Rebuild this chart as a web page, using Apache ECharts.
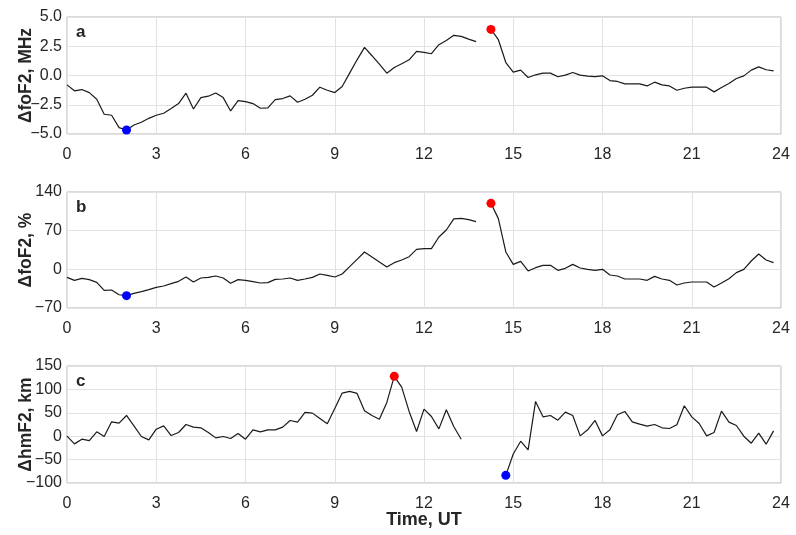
<!DOCTYPE html>
<html><head><meta charset="utf-8">
<script src="https://cdn.jsdelivr.net/npm/echarts@6/dist/echarts.min.js"></script>
<style>html,body{margin:0;padding:0;background:#fff}#c{width:796px;height:535px}</style>
</head><body><div id="c"></div>
<script>
// Time in hours UT (15-min steps)
const times = [];
for (let i = 0; i < 96; i++) times.push(i * 0.25);

const dFoF2MHz = [
 -0.8, -1.31, -1.2, -1.46,
 -2.03, -3.31, -3.4, -4.46,
 -4.66, -4.23, -4.0, -3.66,
 -3.4, -3.23, -2.83, -2.4,
 -1.51, -2.86, -1.89, -1.77,
 -1.49, -1.89, -3.03, -2.14,
 -2.23, -2.4, -2.8, -2.77,
 -2.06, -1.97, -1.74, -2.29,
 -2.03, -1.69, -1.0, -1.26,
 -1.46, -0.94, 0.2, 1.34,
 2.4, 1.69, 0.97, 0.2,
 0.69, 1.0, 1.34, 2.06,
 1.97, 1.86, 2.63, 3.0,
 3.43, 3.34, 3.11, 2.89,
 null, 3.94, 3.06, 1.11,
 0.29, 0.46, -0.17, 0.06,
 0.2, 0.2, -0.11, 0.03,
 0.26, 0.03, -0.06, -0.09,
 -0.03, -0.43, -0.51, -0.71,
 -0.71, -0.71, -0.89, -0.57,
 -0.8, -0.89, -1.26, -1.09,
 -1.0, -1.0, -1.0, -1.4,
 -1.03, -0.69, -0.26, -0.03,
 0.46, 0.74, 0.49, 0.4
];
const dFoF2Pct = [
 -14.5, -19.9, -16.3, -18.7,
 -23.5, -38, -37.4, -46,
 -47.7, -43.4, -40.4, -36.8,
 -32.6, -30.2, -26, -21.7,
 -13.9, -22.9, -15.7, -14.5,
 -12.1, -15.7, -25.3, -18.7,
 -19.9, -22.3, -24.7, -24.1,
 -18.1, -17.5, -15.7, -19.9,
 -17.5, -14.5, -8.4, -10.9,
 -13.9, -8.4, 4.8, 18.1,
 31.4, 22.3, 13.3, 4.2,
 12.1, 16.9, 22.9, 36.2,
 37.4, 37.4, 58.6, 71.2,
 91.2, 92.4, 90, 86.4,
 null, 119.5, 91.8, 31.4,
 9, 14.5, -3, 3,
 7.2, 7.2, -1.8, 1.8,
 9, 2.4, 0, -1.8,
 0, -10.3, -12.1, -17.5,
 -17.5, -17.5, -19.9, -12.7,
 -17.5, -19.9, -28.4, -24.7,
 -22.9, -22.9, -22.9, -32,
 -24.7, -16.9, -6, 0,
 15.1, 27.8, 16.9, 12.1
];
const dHmF2 = [
 0, -16.4, -6.4, -9.3,
 9.3, -0.7, 30.7, 27.9,
 44.3, 22.1, -0.7, -7.9,
 15, 22.1, 1.4, 7.9,
 25, 19.3, 17.9, 7.9,
 -3.6, -0.7, -5, 5.7,
 -6.4, 13.6, 9.3, 13.6,
 13.6, 19.3, 33.6, 30,
 50.7, 49.3, 37.9, 26.4,
 59.3, 92.1, 95.7, 91.4,
 54.3, 44.3, 36.4, 72.1,
 127.9, 105, 52.9, 10,
 57.9, 42.1, 15.7, 56.4,
 20.7, -6.4, null, null,
 null, null, null, -83.6,
 -37.9, -10.7, -29.3, 74.3,
 41.4, 44.3, 34.3, 51.4,
 44.3, 0.7, 13.6, 33.6,
 0.7, 13.6, 45.7, 52.9,
 30.7, 25.7, 21.4, 25,
 17.9, 16.4, 24.3, 65,
 41.4, 27.1, 0.7, 7.9,
 53.6, 30, 22.9, 0,
 -15, 6.4, -17.1, 11.4
];
const panelLetters = ['a', 'b', 'c'];
const yNames = ['\u0394foF2, MHz', '\u0394foF2, %', '\u0394hmF2, km'];
const yMin = [-5, -70, -100], yMax = [5, 140, 150], yStep = [2.5, 70, 50];
const xTicksStep = 3;
const xTitle = 'Time, UT';

const series = [dFoF2MHz, dFoF2Pct, dHmF2];
const FONT = 'Liberation Sans';
const fmtNum = (v, d) => { const s = Math.abs(v).toFixed(d); return v < 0 ? '\u2212' + s : s; };

const grids = [
  {left: 67, right: 15, top: 17, height: 117},
  {left: 67, right: 15, top: 192, height: 116},
  {left: 67, right: 15, top: 366, height: 117}
].map(g => Object.assign(g, {show: true, borderColor: '#b4b4b4', borderWidth: 1,
  containLabel: false, outerBoundsMode: 'none'}));

const xAxes = [0, 1, 2].map(i => ({
  type: 'value', gridIndex: i, min: 0, max: 24, interval: xTicksStep,
  axisLine: {show: false}, axisTick: {show: false},
  axisLabel: {color: '#262626', fontSize: 16, fontFamily: FONT, margin: 13},
  splitLine: {show: true, lineStyle: {color: '#e2e2e2', width: 1}}
}));
const yAxes = [0, 1, 2].map(i => ({
  type: 'value', gridIndex: i, min: yMin[i], max: yMax[i], interval: yStep[i],
  name: yNames[i], nameLocation: 'middle', nameGap: 32, nameRotate: 90,
  nameMoveOverlap: false,
  nameTextStyle: {fontSize: 17.5, fontWeight: 'bold', color: '#262626', fontFamily: FONT},
  axisLine: {show: false}, axisTick: {show: false},
  axisLabel: {color: '#262626', fontSize: 16, fontFamily: FONT, margin: 5,
    formatter: v => fmtNum(v, i === 0 ? 1 : 0)},
  splitLine: {show: true, lineStyle: {color: '#e2e2e2', width: 1}}
}));

const allSeries = [];
series.forEach((arr, i) => {
  const pts = times.map((t, k) => [t, arr[k]]);
  allSeries.push({type: 'line', xAxisIndex: i, yAxisIndex: i, data: pts, showSymbol: false,
    connectNulls: false, lineStyle: {color: '#1a1a1a', width: 1.2}, silent: true, z: 2});
  let maxK = -1, minK = -1;
  arr.forEach((v, k) => {
    if (v === null) return;
    if (maxK < 0 || v > arr[maxK]) maxK = k;
    if (minK < 0 || v < arr[minK]) minK = k;
  });
  allSeries.push({type: 'scatter', xAxisIndex: i, yAxisIndex: i, symbolSize: 9, z: 3,
    data: [{value: [times[maxK], arr[maxK]], itemStyle: {color: '#ff0000', opacity: 1}},
           {value: [times[minK], arr[minK]], itemStyle: {color: '#0000ff', opacity: 1}}]});
});

const chart = echarts.init(document.getElementById('c'), null, {renderer: 'canvas'});
chart.setOption({
  animation: false,
  backgroundColor: '#ffffff',
  grid: grids, xAxis: xAxes, yAxis: yAxes, series: allSeries,
  graphic: [
    ...panelLetters.map((l, i) => ({type: 'text', left: 76, top: grids[i].top + 7,
      style: {text: l, font: 'bold 17px "Liberation Sans"', fill: '#262626'}})),
    {type: 'text', x: 424, y: 511, style: {text: xTitle, align: 'center', verticalAlign: 'top',
      font: 'bold 18px "Liberation Sans"', fill: '#262626'}}
  ]
});
</script></body></html>
